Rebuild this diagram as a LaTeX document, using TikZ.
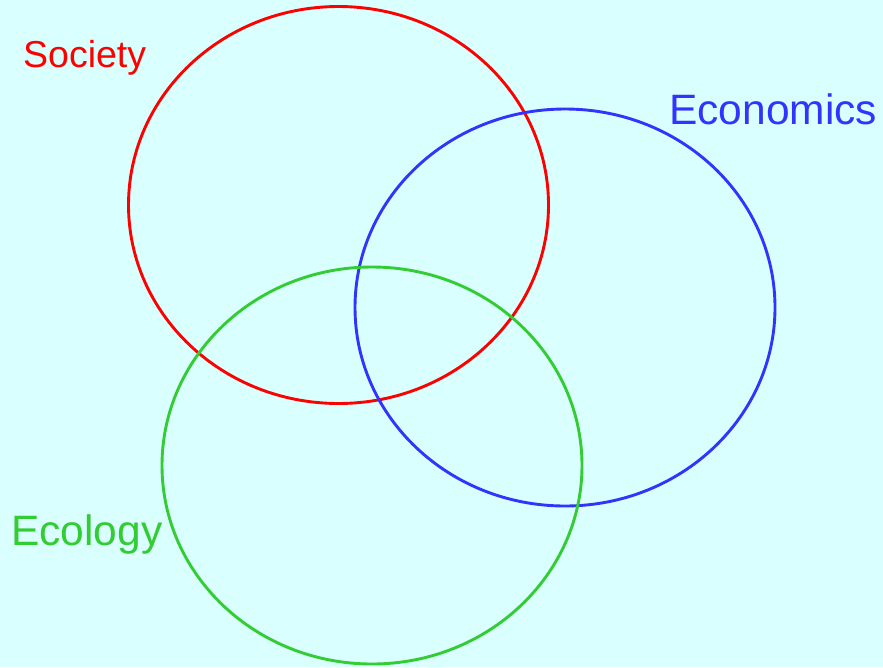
\documentclass[tikz,border=0pt]{standalone}
\usepackage{fontspec}
\setmainfont{Liberation Sans}
\usetikzlibrary{positioning}

\definecolor{bgcyan}{HTML}{D9FFFF}
\definecolor{socred}{HTML}{FF0000}
\definecolor{ecoblue}{HTML}{3333FF}
\definecolor{ecogreen}{HTML}{33CC33}

\begin{document}
\begin{tikzpicture}[x=1pt, y=-1pt]
  \tikzstyle{ring}=[line width = 2.9pt]
  \tikzstyle{tag}=[anchor = base west, inner sep = 0pt]

  \fill[bgcyan] (0,0) rectangle (883,667);
  \useasboundingbox (0,0) rectangle (883,667);

  \draw[ring, socred] (338.5,205) ellipse [x radius = 210, y radius = 198.5];
  \draw[ring, ecoblue] (565,307.5) ellipse [x radius = 210, y radius = 198.5];
  \draw[ring, ecogreen] (372,465.5) ellipse [x radius = 210, y radius = 198.5];

  \node[tag, text = socred, font = \fontsize{37.5}{40}\selectfont] (society) at (23,67) {Society};
  \node[tag, text = ecoblue, font = \fontsize{42.5}{45}\selectfont] (economics) at (669,124) {Economics};
  \node[tag, text = ecogreen, font = \fontsize{42.5}{45}\selectfont] (ecology) at (11,545) {Ecology};

\end{tikzpicture}
\end{document}
